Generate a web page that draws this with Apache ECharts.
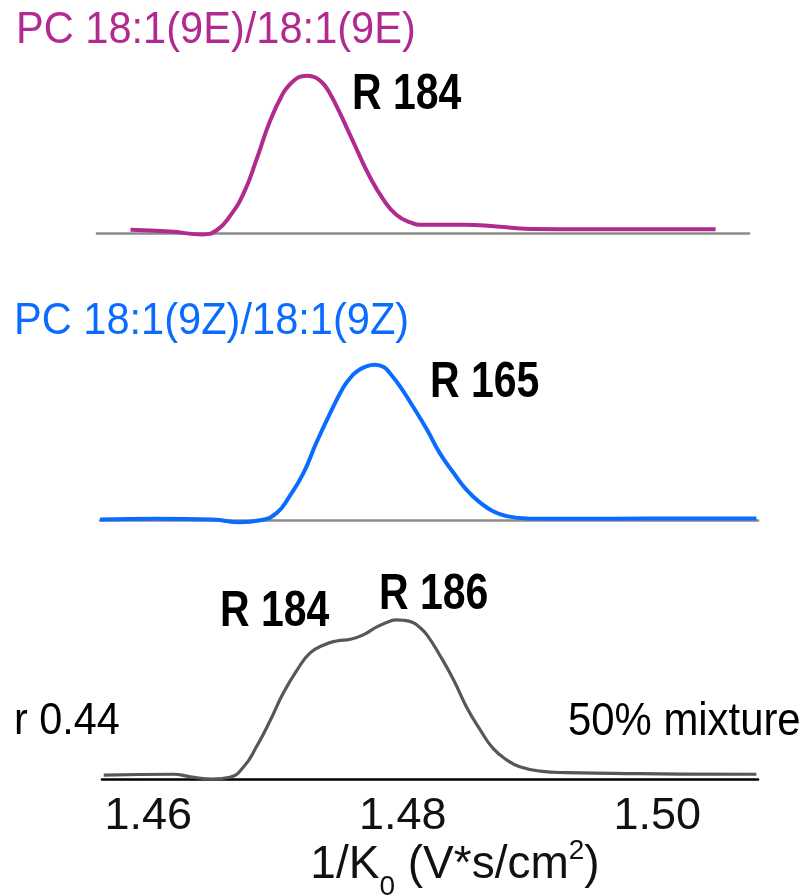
<!DOCTYPE html>
<html>
<head>
<meta charset="utf-8">
<script src="https://cdn.jsdelivr.net/npm/echarts@6/dist/echarts.min.js"></script>
<style>
  html, body { margin: 0; padding: 0; background: #ffffff; }
  #chart { width: 806px; height: 896px; }
</style>
</head>
<body>
<div id="chart"></div>
<script>
// Ion mobility (1/K0) traces, intensities as % of each trace's maximum.
const mobilityE = [1.4586, 1.4617, 1.4643, 1.4654, 1.4664, 1.4675, 1.4685, 1.4696, 1.4706, 1.4711,
  1.4717, 1.4721, 1.4725, 1.4729, 1.4733, 1.4738, 1.4743, 1.4748, 1.4753, 1.4764, 1.4774, 1.4785,
  1.4795, 1.4806, 1.4816, 1.4848, 1.4874, 1.4900, 1.4953, 1.5046];
const intensityE = [2.1, 1.0, -0.8, 2.0, 10.6, 25.5, 46.7, 72.0, 89.0, 94.3,
  98.6, 99.7, 100, 99.6, 98.2, 94.6, 88.5, 80.7, 72.3, 53.0, 36.0, 21.2,
  11.7, 6.8, 5.3, 5.3, 4.2, 2.7, 2.5, 2.5];

const mobilityZ = [1.4562, 1.4607, 1.4651, 1.4672, 1.4688, 1.4701, 1.4711, 1.4722, 1.4732, 1.4743,
  1.4753, 1.4758, 1.4764, 1.4771, 1.4778, 1.4785, 1.4790, 1.4798, 1.4808, 1.4819, 1.4829, 1.4840,
  1.4850, 1.4861, 1.4871, 1.4882, 1.4898, 1.4939, 1.4992, 1.5078];
const intensityZ = [0.4, 0.9, 0.4, -1.3, 0, 4.7, 15.4, 30.4, 49.7, 69.0,
  85.0, 90.8, 95.7, 98.8, 100, 98.5, 94.5, 86.0, 73.2, 58.3, 43.3, 30.4,
  19.7, 11.2, 5.8, 2.6, 1.1, 0.9, 1.1, 1.1];

const mobilityMix = [1.4565, 1.4620, 1.4633, 1.4651, 1.4664, 1.4675, 1.4685, 1.4696, 1.4706, 1.4717,
  1.4727, 1.4738, 1.4748, 1.4759, 1.4769, 1.4780, 1.4790, 1.4795, 1.4800, 1.4808, 1.4813, 1.4819,
  1.4829, 1.4840, 1.4850, 1.4861, 1.4871, 1.4882, 1.4892, 1.4908, 1.4929, 1.4966, 1.5018, 1.5078];
const intensityMix = [2.5, 3.0, 1.4, 0, 1.1, 7.7, 20.3, 37.1, 53.9, 68.6,
  79.1, 84.3, 86.8, 87.9, 90.6, 95.8, 99.2, 100, 99.8, 98.4, 95.6, 90.6,
  78.0, 62.3, 45.5, 30.8, 19.3, 11.9, 7.7, 5.0, 4.0, 3.6, 3.1, 3.0];

const tickValues = [1.46, 1.48, 1.50];
const traceNames = ['PC 18:1(9E)/18:1(9E)', 'PC 18:1(9Z)/18:1(9Z)', '50% mixture'];
const resolutionLabels = ['R 184', 'R 165', 'R 184', 'R 186'];
const correlationLabel = 'r 0.44';

const PURPLE = '#b02a8f';
const BLUE = '#0a6cff';
const GREY = '#575757';
const REGULAR = '"Liberation Sans", Arial, Helvetica, sans-serif';

const pairs = (xs, ys) => xs.map((x, i) => [x, ys[i]]);

// three stacked panels sharing one mobility scale
const panels = [
  { left: 97, width: 652, top: 68, height: 173, min: 1.455967, max: 1.507225, base: '#8a8a8a' },
  { left: 100, width: 658, top: 357, height: 171, min: 1.456203, max: 1.507925, base: '#8a8a8a' },
  { left: 102, width: 656, top: 612, height: 175, min: 1.456360, max: 1.507925, base: '#000000' }
];

const xAxes = panels.map((p, i) => {
  const last = i === panels.length - 1;
  return {
    type: 'value',
    gridIndex: i,
    min: p.min,
    max: p.max,
    axisLine: { show: true, onZero: true, lineStyle: { color: p.base, width: 2.6 } },
    axisTick: { show: false },
    splitLine: { show: false },
    axisLabel: last ? {
      show: true,
      customValues: tickValues,
      formatter: v => v.toFixed(2),
      fontFamily: REGULAR,
      fontSize: 45,
      color: '#111111',
      margin: 7
    } : { show: false },
    name: last ? '{a|1/K}{sub|0}{a| (V*s/cm}{sup|2}{a|)}' : '',
    nameLocation: 'middle',
    nameGap: 42,
    nameMoveOverlap: false,
    nameTextStyle: last ? {
      padding: [0, 0, 0, 50],
      rich: {
        a: { fontFamily: REGULAR, fontSize: 46, lineHeight: 72, color: '#111111' },
        sub: { fontFamily: REGULAR, fontSize: 28, color: '#111111', verticalAlign: 'bottom' },
        sup: { fontFamily: REGULAR, fontSize: 28, color: '#111111', verticalAlign: 'top', padding: [8, 0, 0, 0] }
      }
    } : {}
  };
});

const yAxes = panels.map((p, i) => ({
  type: 'value', gridIndex: i, min: -5, max: 105, show: false
}));

const lineSeries = (data, i, color, width) => ({
  type: 'line',
  xAxisIndex: i,
  yAxisIndex: i,
  data: data,
  smooth: 0.5,
  showSymbol: false,
  symbol: 'none',
  lineStyle: { color: color, width: width },
  z: 3
});

const label = (text, x, y, opts) => ({
  type: 'text',
  x: x,
  y: y,
  scaleX: opts.scaleX,
  style: {
    text: text,
    fill: opts.color || '#000000',
    fontFamily: REGULAR,
    fontSize: opts.size,
    fontWeight: opts.bold ? 'bold' : 'normal',
    textAlign: 'left',
    textVerticalAlign: 'middle',
    align: 'left',
    verticalAlign: 'middle'
  }
});

const chart = echarts.init(document.getElementById('chart'), null, { renderer: 'canvas' });
chart.setOption({
  backgroundColor: '#ffffff',
  animation: false,
  grid: panels.map(p => ({
    left: p.left, width: p.width, top: p.top, height: p.height,
    containLabel: false, outerBoundsMode: 'none'
  })),
  xAxis: xAxes,
  yAxis: yAxes,
  series: [
    lineSeries(pairs(mobilityE, intensityE), 0, PURPLE, 4),
    lineSeries(pairs(mobilityZ, intensityZ), 1, BLUE, 4),
    lineSeries(pairs(mobilityMix, intensityMix), 2, GREY, 3.2)
  ],
  graphic: [
    label(traceNames[0], 16, 31, { size: 44, color: PURPLE, scaleX: 0.945 }),
    label(traceNames[1], 14, 322, { size: 44, color: BLUE, scaleX: 0.945 }),
    label(resolutionLabels[0], 352, 95, { size: 50, bold: true, scaleX: 0.82 }),
    label(resolutionLabels[1], 430, 383, { size: 50, bold: true, scaleX: 0.82 }),
    label(resolutionLabels[2], 220, 612, { size: 50, bold: true, scaleX: 0.82 }),
    label(resolutionLabels[3], 379, 595, { size: 50, bold: true, scaleX: 0.82 }),
    label(correlationLabel, 14, 722, { size: 45, scaleX: 0.92 }),
    label(traceNames[2], 568, 722, { size: 46, scaleX: 0.91 })
  ]
});
</script>
</body>
</html>
